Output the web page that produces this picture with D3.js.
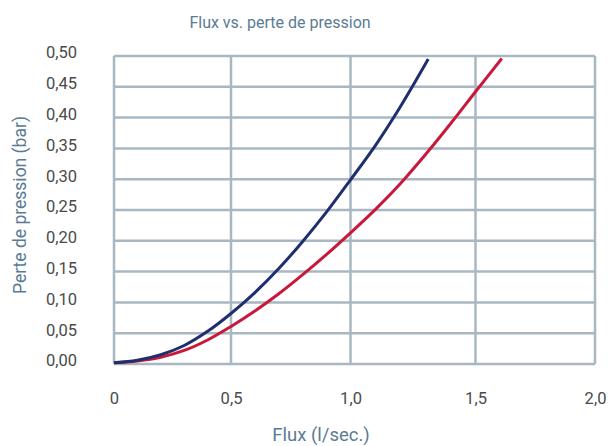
<!DOCTYPE html>
<html>
<head>
<meta charset="utf-8">
<script src="https://cdn.jsdelivr.net/npm/d3@7"></script>
<style>
  body { margin: 0; background: #fff; }
  svg { display: block; }
</style>
</head>
<body>
<div id="container"></div>
<script>
// values
const xTicks = [0, 0.5, 1.0, 1.5, 2.0];
const xTickLabels = ['0', '0,5', '1,0', '1,5', '2,0'];
const yTicks = [0, 0.05, 0.10, 0.15, 0.20, 0.25, 0.30, 0.35, 0.40, 0.45, 0.50];
const yTickLabels = ['0,00', '0,05', '0,10', '0,15', '0,20', '0,25', '0,30', '0,35', '0,40', '0,45', '0,50'];

const blueFlux = [0, 0.1, 0.2, 0.3, 0.4, 0.5, 0.6, 0.7, 0.8, 0.9, 1.0, 1.1, 1.2, 1.311];
const bluePerte = [0.002, 0.006, 0.015, 0.030, 0.053, 0.082, 0.116, 0.155, 0.199, 0.247, 0.299, 0.355, 0.418, 0.495];

const redFlux = [0, 0.1, 0.2, 0.3, 0.4, 0.5, 0.6, 0.7, 0.8, 0.9, 1.0, 1.1, 1.2, 1.3, 1.4, 1.5, 1.61];
const redPerte = [0.002, 0.005, 0.011, 0.022, 0.039, 0.061, 0.086, 0.114, 0.145, 0.178, 0.213, 0.251, 0.293, 0.340, 0.390, 0.442, 0.496];

const width = 608;
const height = 446;
const gridColor = '#a8b8c3';
const labelColor = '#5a7b94';

const svg = d3.select('#container').append('svg')
    .attr('width', width)
    .attr('height', height);

// the reference grid is not evenly spaced, so the x scale follows its lines
const x = d3.scaleLinear().domain(xTicks).range([114, 231, 350.5, 475.5, 595]);
const y = d3.scaleLinear().domain([0, 0.5]).range([364, 56]);

// grid
const grid = svg.append('g');
grid.selectAll('line.v')
    .data(xTicks)
    .enter().append('line')
    .attr('x1', d => x(d)).attr('x2', d => x(d))
    .attr('y1', y(0.5)).attr('y2', y(0))
    .attr('stroke', gridColor)
    .attr('stroke-width', 2.5);
grid.selectAll('line.h')
    .data(yTicks)
    .enter().append('line')
    .attr('x1', x(0)).attr('x2', x(2))
    .attr('y1', d => y(d)).attr('y2', d => y(d))
    .attr('stroke', gridColor)
    .attr('stroke-width', 2.5);

// axes (labels only)
const xAxis = svg.append('g')
    .attr('transform', `translate(0,${y(0) + 25})`)
    .call(d3.axisBottom(x).tickValues(xTicks).tickFormat((d, i) => xTickLabels[i]).tickSize(0));
const yAxis = svg.append('g')
    .attr('transform', `translate(${x(0) - 34},0)`)
    .call(d3.axisLeft(y).tickValues(yTicks).tickFormat((d, i) => yTickLabels[i]).tickSize(0));

[xAxis, yAxis].forEach(a => {
    a.select('.domain').remove();
    a.selectAll('text')
        .attr('fill', '#4a4a4a')
        .style('font-family', 'Roboto, sans-serif')
        .style('font-size', '16.5px');
});
yAxis.selectAll('text').attr('dy', '0.12em');
xAxis.selectAll('text').attr('dy', '0.72em');

// curves
const line = d3.line()
    .x(d => x(d[0]))
    .y(d => y(d[1]))
    .curve(d3.curveCatmullRom);

svg.append('path')
    .datum(d3.zip(redFlux, redPerte))
    .attr('d', line)
    .attr('fill', 'none')
    .attr('stroke', '#c8193b')
    .attr('stroke-width', 3);

svg.append('path')
    .datum(d3.zip(blueFlux, bluePerte))
    .attr('d', line)
    .attr('fill', 'none')
    .attr('stroke', '#1f2f6d')
    .attr('stroke-width', 3);

// titles
const textStyle = sel => sel
    .attr('fill', labelColor)
    .attr('text-anchor', 'middle')
    .style('font-family', 'Roboto, sans-serif');

svg.append('text')
    .attr('x', 280).attr('y', 28)
    .text('Flux vs. perte de pression')
    .call(textStyle)
    .style('font-size', '16px');

svg.append('text')
    .attr('x', 321).attr('y', 441)
    .text('Flux (l/sec.)')
    .call(textStyle)
    .style('font-size', '18.5px');

svg.append('text')
    .attr('transform', 'translate(26,205) rotate(-90)')
    .text('Perte de pression (bar)')
    .call(textStyle)
    .style('font-size', '17.5px');
</script>
</body>
</html>
